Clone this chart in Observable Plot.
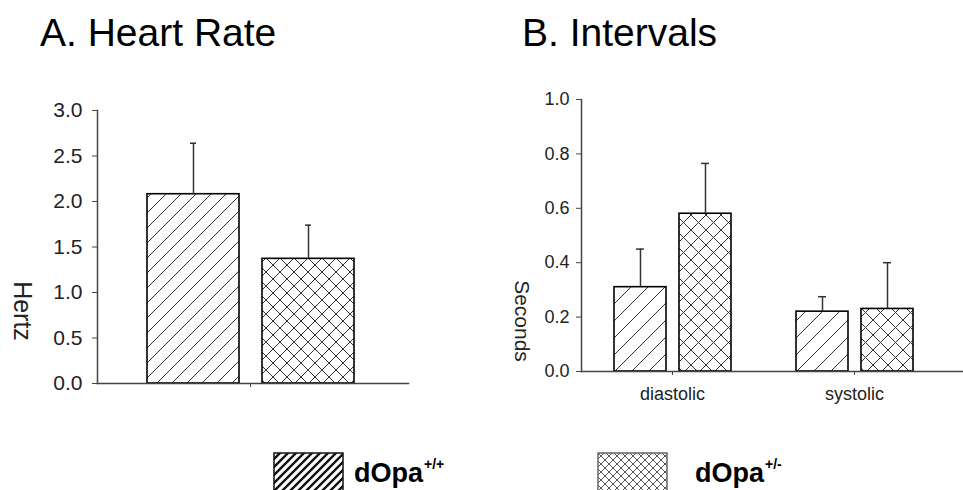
<!DOCTYPE html>
<html><head><meta charset="utf-8">
<script src="https://cdn.jsdelivr.net/npm/d3@7"></script>
<script src="https://cdn.jsdelivr.net/npm/@observablehq/plot@0.6"></script>
<style>
body{margin:0;background:#fff;font-family:"Liberation Sans",Arial,sans-serif;}
#root{position:relative;width:963px;height:490px;overflow:hidden;background:#fff;}
.title{position:absolute;font-size:39px;color:#000;line-height:1;white-space:nowrap;}
.ylab{position:absolute;color:#222;white-space:nowrap;transform-origin:center center;transform:translate(-50%,-50%) rotate(90deg);line-height:1;}
.panel{position:absolute;}
.leg{position:absolute;font-weight:bold;font-size:27px;color:#000;white-space:nowrap;line-height:1;}
.leg sup{font-size:14px;vertical-align:0;position:relative;top:-13px;margin-left:1px;}
.sw{position:absolute;}
</style></head><body>
<svg width="0" height="0" style="position:absolute">
<defs>
<pattern id="hatchA" patternUnits="userSpaceOnUse" width="15" height="15"><path d="M-1,1 L1,-1 M0,15 L15,0 M14,16 L16,14" stroke="#333" stroke-width="1"/></pattern>
<pattern id="crossA" patternUnits="userSpaceOnUse" width="14" height="14"><path d="M-1,-1 L15,15 M15,-1 L-1,15" stroke="#333" stroke-width="1"/></pattern>
<pattern id="hatchB" patternUnits="userSpaceOnUse" width="17" height="17"><path d="M-1,1 L1,-1 M0,17 L17,0 M16,18 L18,16" stroke="#333" stroke-width="1"/></pattern>
<pattern id="crossB" patternUnits="userSpaceOnUse" width="15" height="15"><path d="M-1,-1 L16,16 M16,-1 L-1,16" stroke="#333" stroke-width="1"/></pattern>
<pattern id="hatchL" patternUnits="userSpaceOnUse" width="8" height="8"><path d="M-1,1 L1,-1 M0,8 L8,0 M7,9 L9,7" stroke="#111" stroke-width="2.4"/></pattern>
<pattern id="crossL" patternUnits="userSpaceOnUse" width="8" height="8"><path d="M-1,-1 L9,9 M9,-1 L-1,9" stroke="#555" stroke-width="1"/></pattern>
</defs>
</svg>
<div id="root">
  <div class="title" style="left:40px;top:13px;">A. Heart Rate</div>
  <div class="title" style="left:522px;top:13px;">B. Intervals</div>
  <div class="ylab" style="left:22px;top:311px;font-size:25px;">Hertz</div>
  <div class="ylab" style="left:522px;top:321px;font-size:21px;">Seconds</div>
  <div class="panel" id="pa" style="left:0px;top:90px;"></div>
  <div class="panel" id="pb" style="left:481px;top:80px;"></div>
  <div id="legend"></div>
</div>
<script>
// ---- data ----
const genotypes = ["dOpa+/+", "dOpa+/-"];
const heartRateMean = [2.08, 1.37];
const heartRateErr = [0.56, 0.37];
const heartRateTicks = [0, 0.5, 1.0, 1.5, 2.0, 2.5, 3.0];

const intervalCategories = ["diastolic", "systolic"];
const diastolicMean = [0.31, 0.58];
const diastolicErr = [0.14, 0.185];
const systolicMean = [0.22, 0.23];
const systolicErr = [0.055, 0.17];
const intervalTicks = [0, 0.2, 0.4, 0.6, 0.8, 1.0];

// ---- tables ----
const hrData = genotypes.map((g, i) => ({panel: "Heart Rate", genotype: g, mean: heartRateMean[i], err: heartRateErr[i]}));
const ivMeans = {diastolic: diastolicMean, systolic: systolicMean};
const ivErrs = {diastolic: diastolicErr, systolic: systolicErr};
const ivData = intervalCategories.flatMap(c => genotypes.map((g, i) => ({panel: c, genotype: g, mean: ivMeans[c][i], err: ivErrs[c][i]})));

const axisColor = "#444";
const fmt = d3.format(".1f");

function panel(data, opts) {
  return Plot.plot({
    width: opts.width, height: opts.height,
    marginLeft: opts.ml, marginRight: opts.mr, marginTop: opts.mt, marginBottom: opts.mb,
    style: {fontFamily: "'Liberation Sans', Arial, sans-serif", fontSize: opts.fontSize + "px", color: "#222", background: "transparent", overflow: "visible"},
    fx: {domain: opts.cats, paddingInner: 0, paddingOuter: 0, label: null},
    x: {domain: genotypes, paddingInner: 0.2, paddingOuter: opts.po, axis: null},
    y: {domain: opts.ydomain, nice: false, label: null},
    color: {type: "ordinal", domain: genotypes, range: opts.fills},
    marks: [
      Plot.barY(data, {fx: "panel", x: "genotype", y: "mean", fill: "genotype", stroke: "#000", strokeWidth: 1.6}),
      Plot.ruleX(data, {fx: "panel", x: "genotype", y1: "mean", y2: d => d.mean + d.err, stroke: "#333", strokeWidth: 1.5}),
      Plot.tickY(data, {fx: "panel", x: "genotype", y: d => d.mean + d.err, insetLeft: opts.cap, insetRight: opts.cap, stroke: "#333", strokeWidth: 1.5}),
      Plot.frame({anchor: "bottom", facet: "super", stroke: axisColor, strokeWidth: 1.5, insetRight: -opts.ext}),
      Plot.frame({anchor: "left", facet: "super", stroke: axisColor, strokeWidth: 1.5}),
      Plot.axisY({ticks: opts.ticks, tickFormat: fmt, tickSize: 5, tickPadding: opts.tp, stroke: axisColor, label: null}),
      Plot.axisFx({anchor: "bottom", tickSize: 4, tickPadding: 12, tickFormat: opts.showCats ? (d => d) : (() => ""), stroke: axisColor, label: null, fontSize: opts.catFont})
    ]
  });
}

document.getElementById("pa").append(panel(hrData, {
  width: 420, height: 323, ml: 97, mr: 17, mt: 20, mb: 30,
  fontSize: 21, cats: ["Heart Rate"], po: 0.42, ydomain: [0, 3], ticks: heartRateTicks,
  fills: ["url(#hatchA)", "url(#crossA)"], cap: 43, ext: 5, tp: 10, showCats: false, catFont: 18
}));

document.getElementById("pb").append(panel(ivData, {
  width: 482, height: 336, ml: 100, mr: 18, mt: 19, mb: 45,
  fontSize: 18, cats: intervalCategories, po: 0.5, ydomain: [0, 1], ticks: intervalTicks,
  fills: ["url(#hatchB)", "url(#crossB)"], cap: 22, ext: 18, tp: 7, showCats: true, catFont: 18
}));

// ---- legend ----
const legendPatterns = ["url(#hatchL)", "url(#crossL)"];
const legendBorders = ["#111", "#666"];
const swLeft = [273, 597], txtLeft = [354, 695];
const leg = document.getElementById("legend");
genotypes.forEach((g, i) => {
  const sw = document.createElementNS("http://www.w3.org/2000/svg", "svg");
  sw.setAttribute("class", "sw"); sw.setAttribute("width", 72); sw.setAttribute("height", 42);
  sw.style.left = swLeft[i] + "px"; sw.style.top = "452px";
  sw.innerHTML = `<rect x="1" y="1" width="69" height="40" fill="${legendPatterns[i]}" stroke="${legendBorders[i]}" stroke-width="1.5"/>`;
  leg.append(sw);
  const t = document.createElement("div");
  t.className = "leg"; t.style.left = txtLeft[i] + "px"; t.style.top = "460px";
  const m = g.match(/^(dOpa)(.*)$/);
  t.innerHTML = `${m[1]}<sup>${m[2]}</sup>`;
  leg.append(t);
});
</script>
</body></html>
